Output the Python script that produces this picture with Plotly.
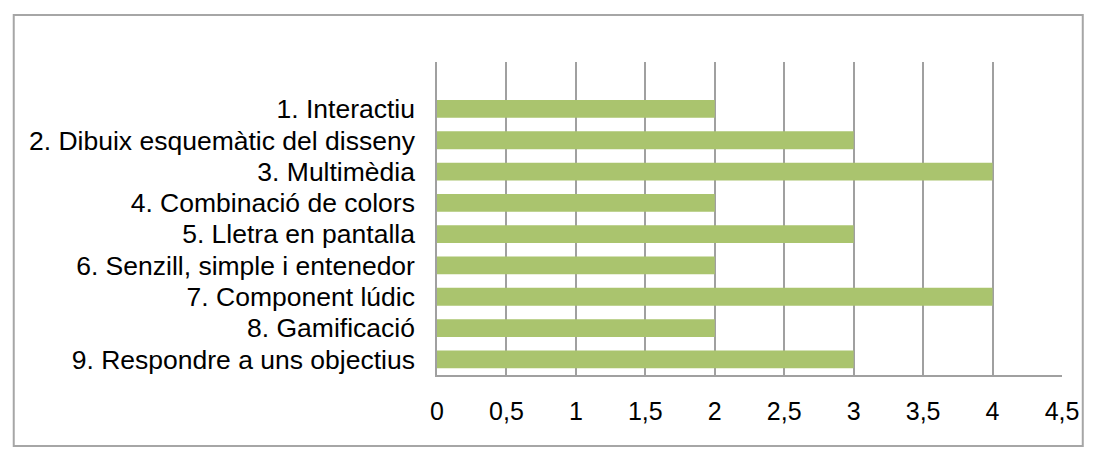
import plotly.graph_objects as go

categories = [
    "1. Interactiu",
    "2. Dibuix esquemàtic del disseny",
    "3. Multimèdia",
    "4. Combinació de colors",
    "5. Lletra en pantalla",
    "6. Senzill, simple i entenedor",
    "7. Component lúdic",
    "8. Gamificació",
    "9. Respondre a uns objectius",
]
values = [2, 3, 4, 2, 3, 2, 4, 2, 3]
x_ticks = [0, 0.5, 1, 1.5, 2, 2.5, 3, 3.5, 4, 4.5]

fig = go.Figure(
    go.Bar(
        x=values,
        y=categories,
        orientation="h",
        marker=dict(color="#AAC46E", line=dict(width=0)),
    )
)

# page has an 8px body margin, so figure coords = page coords - 8
W, H = 1083, 439
L, R, T, B = 429, 22, 54, 72
pw, ph = W - L - R, H - T - B

def px_x(px):
    return (px - L) / pw

def px_y(py):
    return (H - B - py) / ph

fig.update_layout(
    width=W,
    height=H,
    margin=dict(l=L, r=R, t=T, b=B),
    paper_bgcolor="white",
    plot_bgcolor="white",
    separators=",.",
    bargap=0.43,
    showlegend=False,
    font=dict(family="Liberation Sans, Arial, sans-serif", size=26.5, color="#000000"),
    xaxis=dict(
        range=[0, 4.5],
        tickmode="array",
        tickvals=x_ticks,
        showgrid=True,
        gridcolor="#A0A0A0",
        gridwidth=1.5,
        zeroline=False,
        showline=True,
        linecolor="#A0A0A0",
        linewidth=1.5,
        ticks="",
        ticklabelstandoff=13,
        tickfont=dict(size=25),
    ),
    yaxis=dict(
        type="category",
        categoryorder="array",
        categoryarray=categories,
        tickmode="array",
        tickvals=categories,
        ticktext=categories,
        range=[8.5, -1.5],
        showgrid=False,
        zeroline=False,
        showline=True,
        linecolor="#A0A0A0",
        linewidth=1.5,
        ticks="",
        ticklabelstandoff=15,
        tickfont=dict(size=26.5),
    ),
    shapes=[
        dict(
            type="rect",
            xref="paper",
            yref="paper",
            x0=px_x(1),
            x1=px_x(W - 1),
            y0=px_y(H - 1),
            y1=px_y(7),
            line=dict(color="#A6A6A6", width=2),
            fillcolor="rgba(0,0,0,0)",
            layer="below",
        )
    ],
)

fig.write_html("out.html", config={"displayModeBar": False})
